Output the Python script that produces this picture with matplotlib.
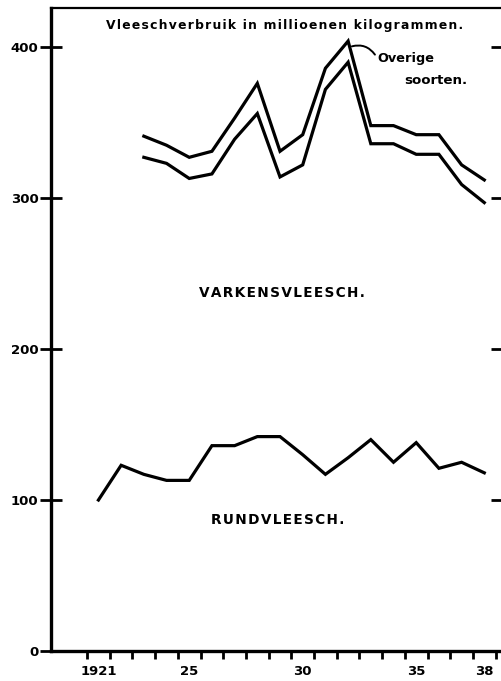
import matplotlib.pyplot as plt

years = list(range(1921, 1939))
rund = [100, 123, 117, 113, 113, 136, 136, 142, 142, 130, 117, 128, 140, 125, 138, 121, 125, 118]

years_top = list(range(1923, 1939))
varkens = [327, 323, 313, 316, 339, 356, 314, 322, 372, 390, 336, 336, 329, 329, 309, 297]
overige = [341, 335, 327, 331, 353, 376, 331, 342, 386, 404, 348, 348, 342, 342, 322, 312]

yticks = [0, 100, 200, 300, 400]
xlabels = {1921: '1921', 1925: '25', 1930: '30', 1935: '35', 1938: '38'}


def spaced(s):
    # letter spacing like the old print
    return '\u200a'.join(s)


fig = plt.figure(figsize=(5.02, 6.81), dpi=100)
ax = fig.add_axes([0.1016, 0.0441, 0.8984, 0.9439])
ax.set_xlim(1918.91, 1938.78)
ax.set_ylim(0, 425.8)

ax.plot(years, rund, color='black', lw=2.3, solid_joinstyle='miter')
ax.plot(years_top, varkens, color='black', lw=2.3, solid_joinstyle='miter')
ax.plot(years_top, overige, color='black', lw=2.3, solid_joinstyle='miter')

for s in ['left', 'bottom']:
    ax.spines[s].set_linewidth(2.4)
ax.spines['top'].set_linewidth(1.6)
ax.spines['right'].set_visible(False)

f = dict(family='DejaVu Sans', weight='bold', color='black')

ax.set_yticks(yticks)
ax.set_yticklabels([str(v) for v in yticks], fontsize=9.5, **f)
ax.tick_params(axis='y', direction='inout', length=16, width=2, pad=1, right=True)

ax.set_xticks([y - 0.5 for y in range(1921, 1940)])
ax.set_xticklabels([])
ax.tick_params(axis='x', direction='out', length=6, width=2)
for yr, lab in xlabels.items():
    ax.text(yr, -9, lab, ha='center', va='top', fontsize=9.5, **f)

ax.text(1929.2, 414, spaced('Vleeschverbruik in millioenen kilogrammen.'), ha='center', va='center',
        fontsize=8.9, **f)
ax.annotate('', xy=(1932.05, 400), xytext=(1933.25, 393.5),
            arrowprops=dict(arrowstyle='-', color='black', lw=1.4, connectionstyle='arc3,rad=0.4'))
ax.text(1933.3, 392.5, 'Overige', ha='left', va='center', fontsize=9.3, **f)
ax.text(1937.25, 378, 'soorten.', ha='right', va='center', fontsize=9.6, **f)
ax.text(1929.1, 237, spaced('VARKENSVLEESCH.'), ha='center', va='center', fontsize=9.8, **f)
ax.text(1928.9, 86.7, spaced('RUNDVLEESCH.'), ha='center', va='center', fontsize=9.8, **f)

fig.savefig('out.png', dpi=100)
